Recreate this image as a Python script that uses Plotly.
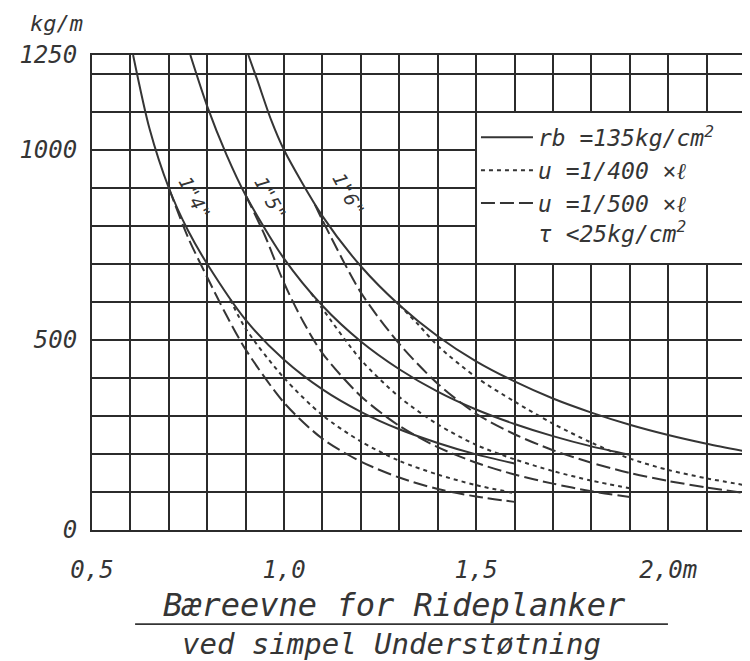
import plotly.graph_objects as go

# ---- data (span in m, load in kg/m) ----
x4_solid = [0.607, 0.65, 0.70, 0.75, 0.80, 0.90, 1.00, 1.10, 1.20, 1.30, 1.40, 1.50, 1.60]
y4_solid = [1250, 1055, 900, 788, 700, 553, 448, 370, 311, 265, 229, 199, 175]
x4_dot = [0.86, 0.90, 1.00, 1.10, 1.20, 1.30, 1.40, 1.50, 1.60]
y4_dot = [606, 530, 400, 302, 233, 182, 146, 118, 97]
x4_dash = [0.70, 0.75, 0.80, 0.85, 0.90, 1.00, 1.10, 1.20, 1.30, 1.40, 1.50, 1.60]
y4_dash = [900, 770, 665, 565, 475, 335, 240, 180, 138, 108, 88, 74]

x5_solid = [0.756, 0.80, 0.85, 0.90, 1.00, 1.10, 1.20, 1.30, 1.40, 1.50, 1.60, 1.70, 1.80, 1.90]
y5_solid = [1250, 1115, 988, 881, 714, 590, 496, 423, 364, 317, 279, 247, 220, 198]
x5_dot = [1.07, 1.10, 1.20, 1.30, 1.40, 1.50, 1.60, 1.70, 1.80, 1.90]
y5_dot = [624, 582, 448, 350, 278, 224, 186, 155, 130, 110]
x5_dash = [0.90, 0.95, 1.00, 1.05, 1.10, 1.20, 1.30, 1.40, 1.50, 1.60, 1.70, 1.80, 1.90]
y5_dash = [881, 775, 650, 548, 465, 352, 274, 218, 177, 146, 122, 102, 87]

x6_solid = [0.907, 0.93, 0.966, 1.00, 1.10, 1.20, 1.30, 1.40, 1.50, 1.60, 1.70, 1.80, 1.90, 2.00, 2.10, 2.20]
y6_solid = [1250, 1185, 1080, 1000, 826, 694, 592, 510, 444, 391, 346, 309, 277, 250, 227, 207]
x6_dot = [1.30, 1.35, 1.40, 1.50, 1.60, 1.70, 1.80, 1.90, 2.00, 2.10, 2.20]
y6_dot = [592, 540, 485, 402, 338, 280, 230, 188, 158, 136, 118]
x6_dash = [1.08, 1.10, 1.20, 1.30, 1.40, 1.50, 1.60, 1.70, 1.80, 1.90, 2.00, 2.10, 2.20]
y6_dash = [857, 815, 625, 490, 385, 306, 252, 210, 177, 150, 129, 112, 97]

plank_labels = ['1"4"', '1"5"', '1"6"']
label_x = [0.768, 0.965, 1.168]
label_y = [874, 874, 884]

legend_names = ["rb =135kg/cm<sup>2</sup>", "u =1/400 ×ℓ", "u =1/500 ×ℓ<br>τ <25kg/cm<sup>2</sup>"]

x_tickvals = [round(0.5 + 0.1 * i, 1) for i in range(18)]
x_ticklabels = {0.5: "0,5", 1.0: "1,0", 1.5: "1,5", 2.0: "2,0m"}
y_tickvals = list(range(0, 1300, 100)) + [1250]
y_ticklabels = {0: "0", 500: "500", 1000: "1000", 1250: "1250"}

INK = "#353535"
GRID = "#2b2b2b"
FONT = "DejaVu Sans Mono"

fig = go.Figure()

styles = {"solid": "solid", "dot": "4px,4px", "dash": "14px,5px"}
groups = [
    (x4_solid, y4_solid, x4_dot, y4_dot, x4_dash, y4_dash, False),
    (x5_solid, y5_solid, x5_dot, y5_dot, x5_dash, y5_dash, False),
    (x6_solid, y6_solid, x6_dot, y6_dot, x6_dash, y6_dash, True),
]
for xs, ys, xd, yd, xa, ya, show in groups:
    fig.add_trace(go.Scatter(x=xs, y=ys, mode="lines", name=legend_names[0],
                             legendgroup="s", showlegend=show, legendrank=1,
                             line=dict(color=INK, width=2, dash=styles["solid"], shape="spline", smoothing=0.8)))
    fig.add_trace(go.Scatter(x=xd, y=yd, mode="lines", name=legend_names[1],
                             legendgroup="d", showlegend=show, legendrank=2,
                             line=dict(color=INK, width=2, dash=styles["dot"], shape="spline", smoothing=0.8)))
    fig.add_trace(go.Scatter(x=xa, y=ya, mode="lines", name=legend_names[2],
                             legendgroup="a", showlegend=show, legendrank=3,
                             line=dict(color=INK, width=2, dash=styles["dash"], shape="spline", smoothing=0.8)))

# white legend box covering the grid
fig.add_shape(type="rect", xref="x", yref="y", x0=1.5, x1=2.2, y0=700, y1=1100,
              fillcolor="white", line=dict(color=GRID, width=1.8), layer="between")

for lab, lx, ly in zip(plank_labels, label_x, label_y):
    fig.add_annotation(x=lx, y=ly, text=lab, showarrow=False, textangle=62,
                       font=dict(family=FONT, size=19, color=INK, style="italic"))

# axis unit
fig.add_annotation(xref="paper", yref="paper", x=-0.055, y=1.066, text="kg/m", showarrow=False,
                   xanchor="center", yanchor="middle",
                   font=dict(family=FONT, size=22, color=INK, style="italic"))

# caption
fig.add_annotation(xref="paper", yref="paper", x=0.463, y=-0.158, text="Bæreevne for Rideplanker",
                   showarrow=False, xanchor="center", yanchor="middle",
                   font=dict(family=FONT, size=32, color=INK, style="italic"))
fig.add_annotation(xref="paper", yref="paper", x=0.458, y=-0.24, text="ved simpel Understøtning",
                   showarrow=False, xanchor="center", yanchor="middle",
                   font=dict(family=FONT, size=29, color=INK, style="italic"))
fig.add_shape(type="line", xref="paper", yref="paper", x0=0.066, x1=0.882, y0=-0.198, y1=-0.198,
              line=dict(color=INK, width=1.8))

axis_font = dict(family=FONT, size=24, color=INK, style="italic")
fig.update_xaxes(range=[0.5, 2.2], tickmode="array", tickvals=x_tickvals,
                 ticktext=[x_ticklabels.get(v, "") for v in x_tickvals],
                 showgrid=True, gridcolor=GRID, gridwidth=1.6,
                 showline=True, linecolor=GRID, linewidth=2, mirror=True,
                 ticks="", tickfont=axis_font, ticklabelstandoff=17, zeroline=False,
                 automargin=False)
fig.update_yaxes(range=[0, 1250], tickmode="array", tickvals=y_tickvals,
                 ticktext=[y_ticklabels.get(v, "") for v in y_tickvals],
                 showgrid=True, gridcolor=GRID, gridwidth=1.6,
                 showline=True, linecolor=GRID, linewidth=2, mirror=True,
                 ticks="", tickfont=axis_font, ticklabelstandoff=8, zeroline=False,
                 automargin=False)

# the page adds an 8px body margin, so the figure is sized to land on the 750x661 frame
fig.update_layout(
    width=742, height=653,
    margin=dict(l=84, r=5, t=47, b=131, autoexpand=False),
    paper_bgcolor="white", plot_bgcolor="white",
    showlegend=True,
    legend=dict(x=0.588, y=0.872, xanchor="left", yanchor="top",
                bgcolor="rgba(0,0,0,0)", borderwidth=0,
                font=dict(family=FONT, size=23, color=INK, style="italic"),
                itemwidth=52, valign="top", traceorder="normal", tracegroupgap=2),
)

fig.write_html("out.html")
